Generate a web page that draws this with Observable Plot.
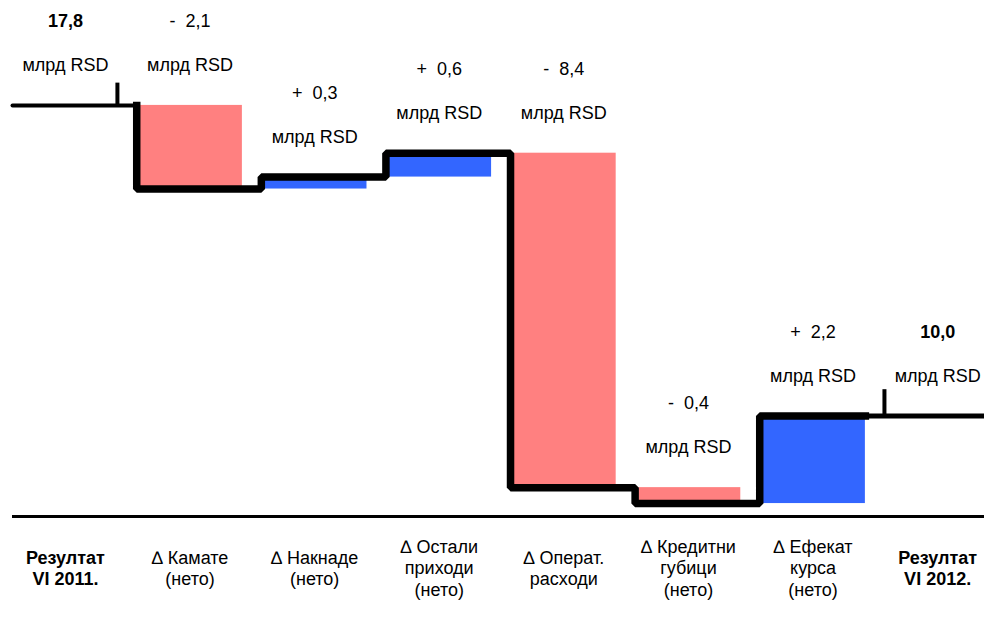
<!DOCTYPE html>
<html><head><meta charset="utf-8">
<script src="https://cdn.jsdelivr.net/npm/d3@7"></script>
<script src="https://cdn.jsdelivr.net/npm/@observablehq/plot@0.6"></script>
<style>body{margin:0;background:#fff;} svg{display:block;}</style>
</head><body><div id="chart"></div>
<script>
// ---- data ----
const categories = [
  "Резултат\nVI 2011.",
  "∆ Камате\n(нето)",
  "∆ Накнаде\n(нето)",
  "∆ Остали\nприходи\n(нето)",
  "∆ Операт.\nрасходи",
  "∆ Кредитни\nгубици\n(нето)",
  "∆ Ефекат\nкурса\n(нето)",
  "Резултат\nVI 2012."
];
const startValue = 17.8;
const deltas = [-2.1, 0.3, 0.6, -8.4, -0.4, 2.2];
const endValue = 10.0;
const unitLabel = "млрд RSD";

// ---- derived ----
const levels = [startValue];
deltas.forEach((d, k) => levels.push(Math.round((levels[k] + d) * 10) / 10));
const fmt = v => Math.abs(v).toFixed(1).replace(".", ",");

const bars = deltas.map((d, k) => ({
  i: k + 1, delta: d,
  lo: Math.min(levels[k], levels[k + 1]),
  hi: Math.max(levels[k], levels[k + 1])
}));

const labels = [
  {i: 0, top: startValue, text: fmt(startValue), bold: true},
  ...bars.map(b => ({i: b.i, top: b.hi, text: (b.delta < 0 ? "-" : "+") + "\u00a0\u00a0" + fmt(b.delta), bold: false})),
  {i: 7, top: endValue, text: fmt(endValue), bold: true}
];

const cats = categories.map((c, i) => ({i, c, bold: i === 0 || i === categories.length - 1}));

// layout constants
const xDom = [-0.425, 7.376];
const yDom = [7.475, 20.435];
const stepOff = 0.428, barL = 0.4, barR = 0.42;

const stepPts = [];
deltas.forEach((d, k) => {
  const vx = k + 1 - stepOff;
  stepPts.push({x: vx, y: levels[k]});
  stepPts.push({x: vx, y: levels[k + 1]});
});
stepPts.push({x: deltas.length + barR, y: levels[levels.length - 1]});

const font = "Liberation Sans, Arial, Helvetica, sans-serif";

const chart = Plot.plot({
  width: 984, height: 617,
  marginLeft: 12, marginRight: 0, marginTop: 0, marginBottom: 101,
  x: {domain: xDom, axis: null},
  y: {domain: yDom, axis: null},
  style: {fontFamily: font, fontSize: "18px", background: "#fff"},
  marks: [
    Plot.rect(bars.filter(b => b.delta < 0), {x1: b => b.i - barL, x2: b => b.i + barR, y1: "lo", y2: "hi", fill: "#FF8080"}),
    Plot.rect(bars.filter(b => b.delta >= 0), {x1: b => b.i - barL, x2: b => b.i + barR, y1: "lo", y2: "hi", fill: "#3366FF"}),
    Plot.line([{x: xDom[0], y: startValue}, {x: 1 - stepOff, y: startValue}], {x: "x", y: "y", stroke: "#000", strokeWidth: 4}),
    Plot.line([{x: deltas.length + barR, y: endValue}, {x: xDom[1], y: endValue}], {x: "x", y: "y", stroke: "#000", strokeWidth: 5}),
    Plot.line(stepPts, {x: "x", y: "y", stroke: "#000", strokeWidth: 7.5, strokeLinecap: "square", strokeLinejoin: "miter"}),
    Plot.ruleX([0.417], {y1: startValue, y2: startValue + 0.56, stroke: "#000", strokeWidth: 4}),
    Plot.ruleX([6.573], {y1: endValue, y2: endValue + 0.66, stroke: "#000", strokeWidth: 4}),
    Plot.ruleY([yDom[0]], {stroke: "#000", strokeWidth: 3}),
    Plot.text(labels.filter(d => d.bold), {x: "i", y: "top", text: "text", dy: -84, fontSize: 18, fontWeight: "bold", fill: "#000"}),
    Plot.text(labels.filter(d => !d.bold), {x: "i", y: "top", text: "text", dy: -84, fontSize: 18, fill: "#000"}),
    Plot.text(labels, {x: "i", y: "top", text: () => unitLabel, dy: -40, fontSize: 18, fill: "#000"}),
    Plot.text(cats.filter(d => d.bold), {x: "i", frameAnchor: "bottom", dy: 51, text: "c", lineAnchor: "middle", lineHeight: 1.2, fontSize: 18, fontWeight: "bold", fill: "#000"}),
    Plot.text(cats.filter(d => !d.bold), {x: "i", frameAnchor: "bottom", dy: 51, text: "c", lineAnchor: "middle", lineHeight: 1.2, fontSize: 18, fill: "#000"})
  ]
});
document.getElementById("chart").appendChild(chart);
</script>
</body></html>
